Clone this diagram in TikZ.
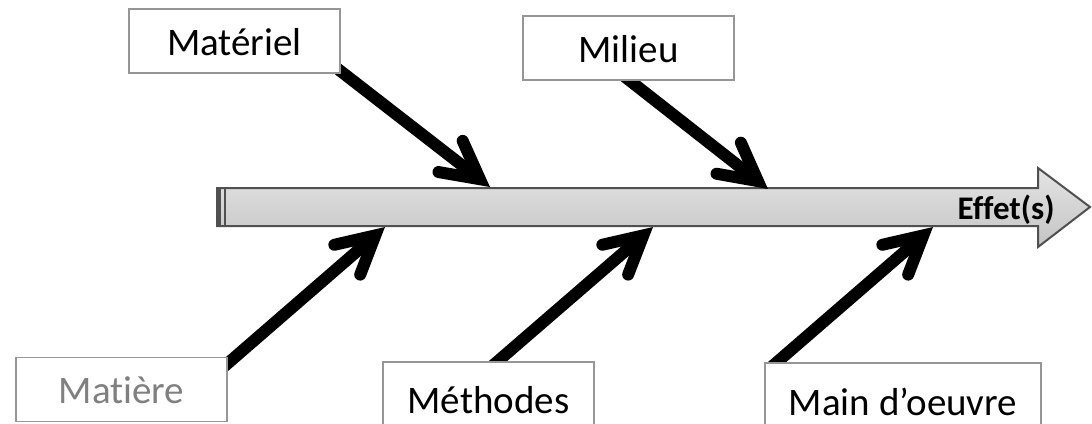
\documentclass[tikz,border=0pt]{standalone}
\usepackage{fontspec}
\setmainfont{Carlito}[Ligatures=NoCommon]
\usetikzlibrary{calc}
\definecolor{barTop}{RGB}{228,228,228}
\definecolor{barBot}{RGB}{196,196,196}
\definecolor{barLine}{RGB}{80,80,80}
\definecolor{boxLine}{RGB}{150,150,150}
\definecolor{greyText}{RGB}{128,128,128}
\begin{document}
\begin{tikzpicture}[x=0.5pt,y=-0.5pt,
  box/.style={draw=boxLine, line width=0.75pt, fill=white, inner sep=0pt,
    minimum width=105.5pt, minimum height=32pt, text height=14pt, text depth=0pt,
    font=\fontsize{19.5pt}{23pt}\selectfont},
  shaft/.style={line width=6pt, line cap=butt},
  barb/.style={line width=6pt, line cap=round, line join=miter},
]
\useasboundingbox (0,0) rectangle (1092,423);
\clip (0,0) rectangle (1092,423);

% main arrow (spine)
\draw[top color=barTop, bottom color=barBot, draw=barLine, line width=1pt]
  (217,188) -- (1038,188) -- (1038,168) -- (1090,207) -- (1038,247) -- (1038,226) -- (217,226) -- cycle;
\fill[barLine] (216,188) rectangle (221,226);
\draw[barLine, line width=1pt] (225,188) -- (225,226);
\node[anchor=base east, inner sep=0pt, font=\fontsize{16.5pt}{19pt}\selectfont\bfseries] (effet) at (1055,219) {Effet(s)};

% bone coordinates
\coordinate (s1) at (333.5,65.6);  \coordinate (v1) at (479.9,179.2);
\coordinate (s2) at (619.6,72.6);  \coordinate (v2) at (757.9,181.1);
\coordinate (s3) at (217.9,371.9); \coordinate (v3) at (375.3,235.4);
\coordinate (s4) at (487.9,369.8); \coordinate (v4) at (643.3,235.4);
\coordinate (s5) at (771.5,366.9); \coordinate (v5) at (923.3,235.4);

\foreach \i in {1,...,5}{
  \draw[shaft] (s\i) -- (v\i);
  \draw[barb] ($(v\i)!21pt!28:(s\i)$) -- (v\i) -- ($(v\i)!21pt!-28:(s\i)$);
}

% cause boxes
\node[box] (materiel) at (234.5,41) {Matériel};
\node[box] (milieu) at (628.5,48) {Milieu};
\node[box, text=greyText] (matiere) at (121.5,389.5) {Matière};
\node[box, minimum height=37pt] (methodes) at (488.5,399) {Méthodes};
\node[box, minimum width=138pt, minimum height=38pt] (main) at (903,401) {Main d’oeuvre};
\end{tikzpicture}
\end{document}
